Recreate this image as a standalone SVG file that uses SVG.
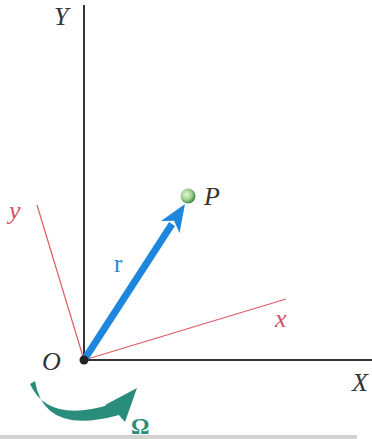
<svg xmlns="http://www.w3.org/2000/svg" width="372" height="439" viewBox="0 0 372 439">
<defs>
<style>
.lbl{font-family:"Liberation Serif","Times New Roman",serif;font-style:italic;font-size:26px;fill:#333}
.red{fill:#d6506a}
.axis{stroke:#333;stroke-width:2;fill:none}
.rline{stroke:#e05a66;stroke-width:1.2;fill:none}
</style>
<radialGradient id="ball" cx="0.4" cy="0.4" r="0.6">
<stop offset="0" stop-color="#e4f6d8"/>
<stop offset="0.6" stop-color="#9fd08f"/>
<stop offset="1" stop-color="#3f8a48"/>
</radialGradient>
</defs>
<rect width="372" height="439" fill="#fff"/>
<g id="connectors">
<line class="axis" x1="84" y1="5" x2="84" y2="360"/>
<line class="axis" x1="84" y1="360" x2="372" y2="360"/>
<line class="rline" x1="84" y1="360" x2="286" y2="299"/>
<line class="rline" x1="84" y1="360" x2="37" y2="205"/>
<g id="r-vector">
<line x1="84" y1="360" x2="172" y2="224" stroke="#1e86dc" stroke-width="7"/>
<path d="M185,204 L179.5,233 L174.1,220.8 L161,221 Z" fill="#1e86dc"/>
</g>
<g id="omega-arrow" fill="#2a8c7a">
<path d="M30,384 Q48,424 112,404 L119,415 Q44,436 35,381 Z"/>
<path d="M137,388 L125,422 L117,413 L105,405 Z"/>
</g>
</g>
<g id="origin"><circle cx="84" cy="360" r="4.5" fill="#222"/><text class="lbl" x="42" y="370">O</text></g>
<g id="P"><circle cx="188" cy="196" r="7.5" fill="url(#ball)"/><text class="lbl" x="204" y="205" font-size="24">P</text></g>
<g id="labels">
<text class="lbl" x="54" y="25">Y</text>
<text class="lbl" x="352" y="391">X</text>
<text class="lbl red" x="275" y="327">x</text>
<text class="lbl red" x="9" y="219">y</text>
<text x="114" y="272" font-family="Liberation Serif, serif" font-size="25" fill="#1e86dc">r</text>
<text x="131" y="434" font-family="Liberation Serif, serif" font-size="23" font-weight="bold" fill="#2a8c7a">Ω</text>
</g>
<rect x="0" y="435" width="357" height="4" fill="#d2d2d2"/>
</svg>
